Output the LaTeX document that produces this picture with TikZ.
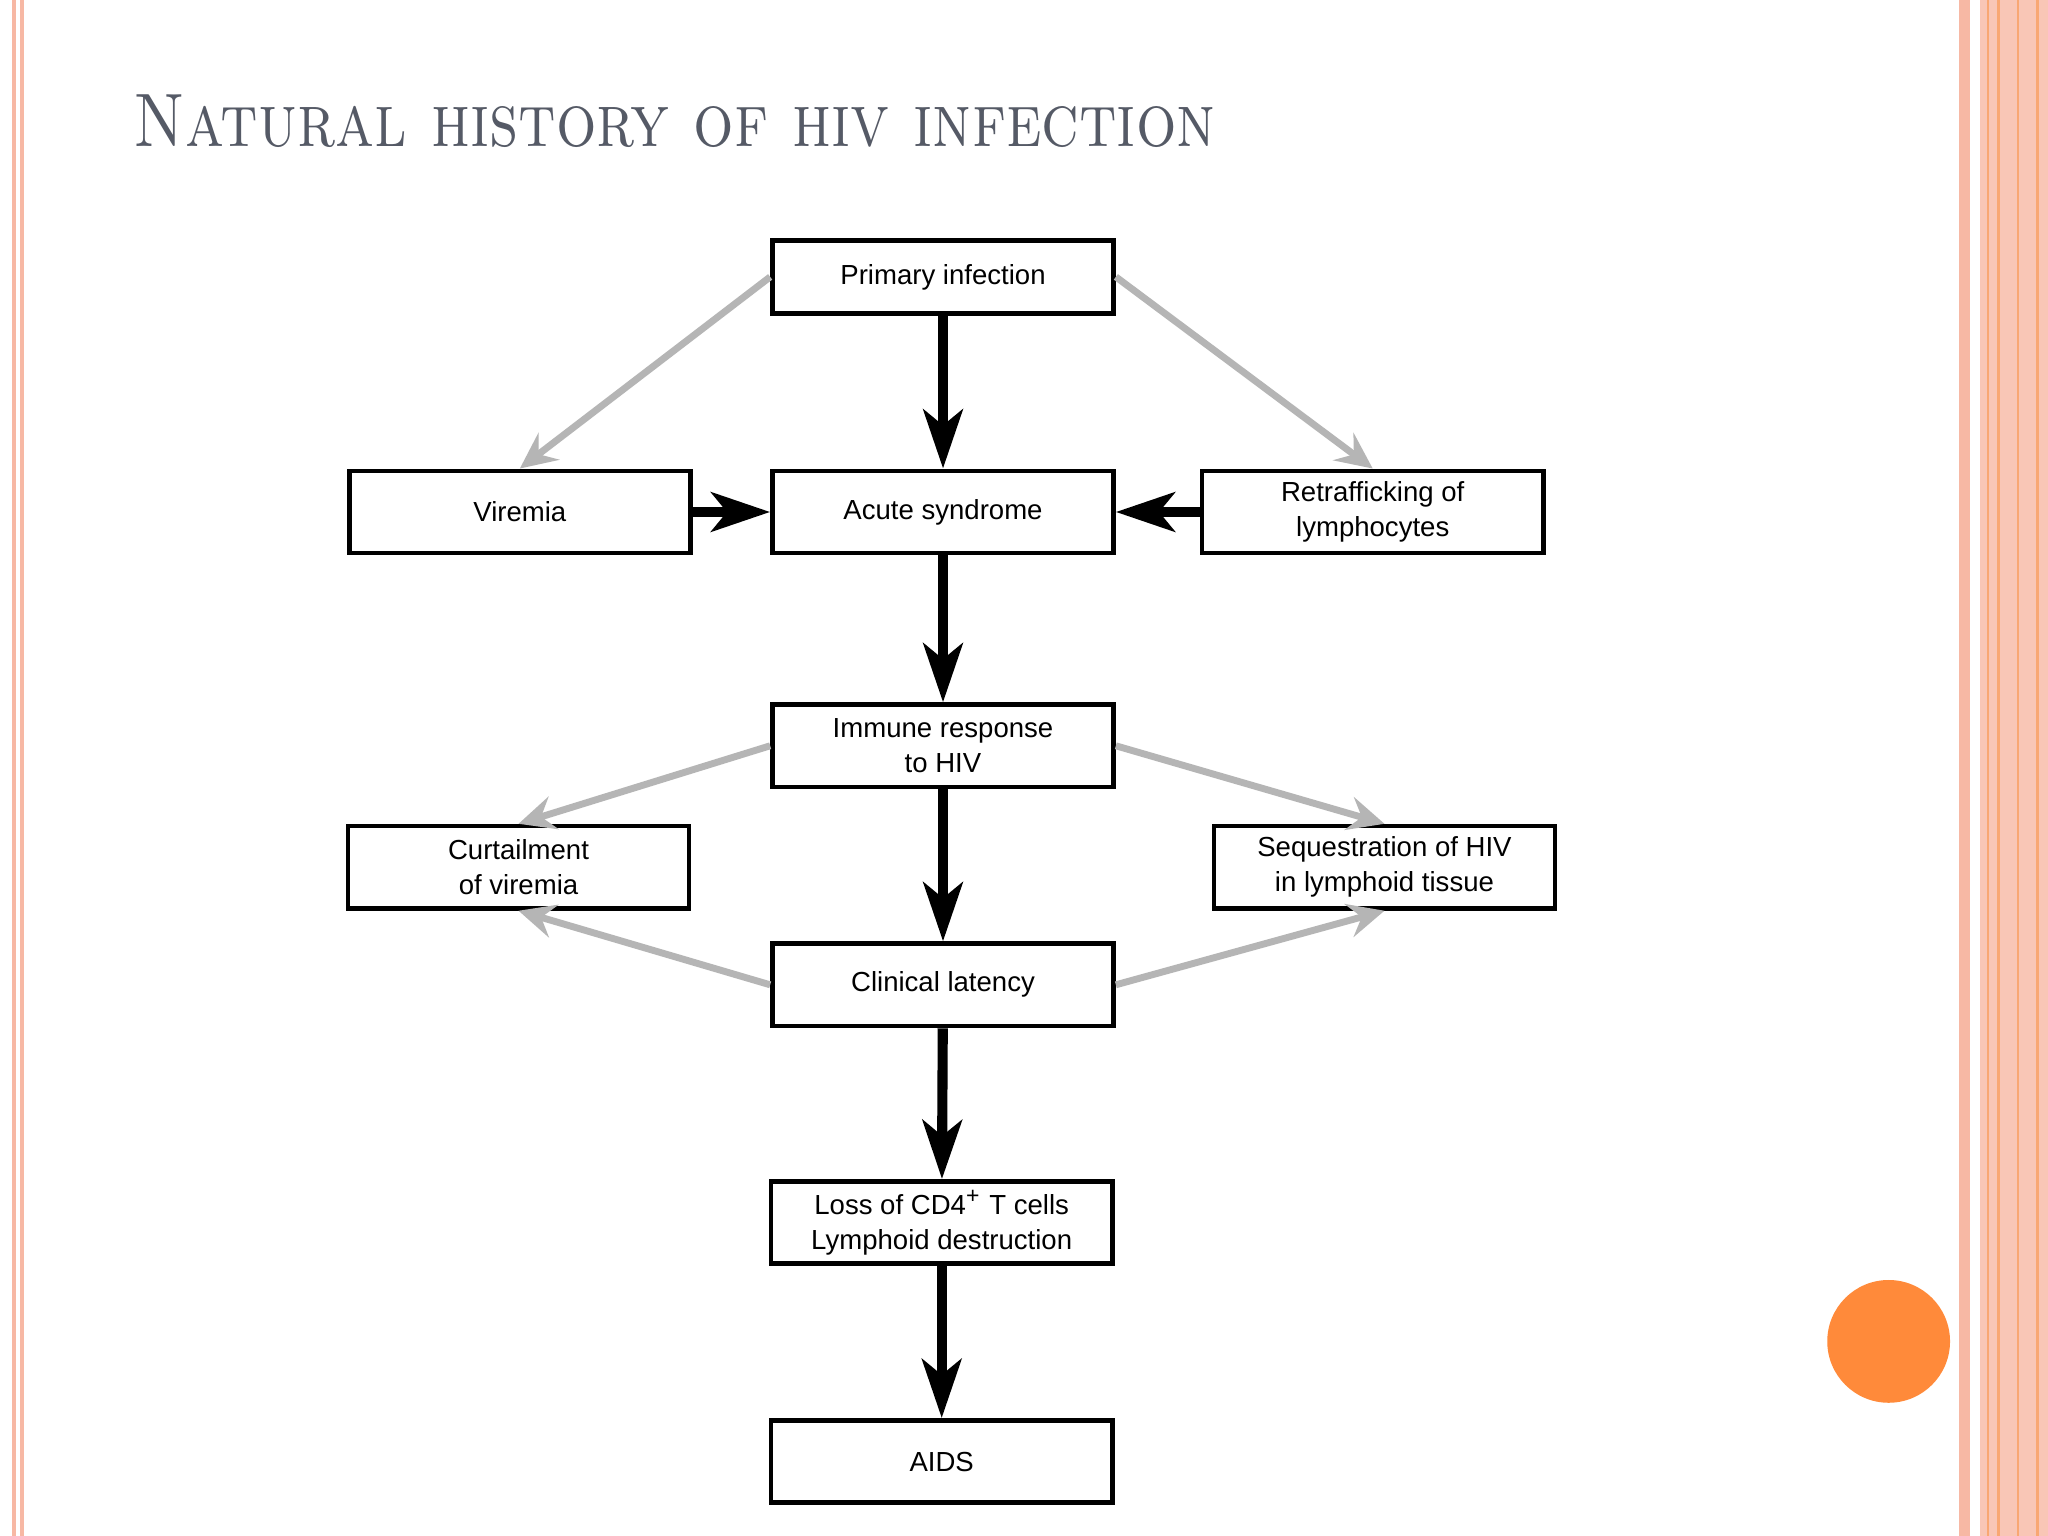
\documentclass[tikz,border=0pt]{standalone}
\usepackage{fontspec}
\setsansfont{Liberation Sans}
\usetikzlibrary{arrows.meta}
\definecolor{titlec}{HTML}{555A66}
\definecolor{pinkc}{HTML}{F7B8A4}
\definecolor{orangec}{HTML}{FF8A3A}
\definecolor{grayarr}{HTML}{B5B5B5}
\tikzset{
 box/.style={draw=black, line width=1pt, fill=white, minimum width=2.61cm, minimum height=0.63cm, inner sep=1pt, align=center, font=\sffamily\fontsize{6}{7.6}\selectfont},
 blk/.style={line width=2.2pt, -{Stealth[length=0.45cm,width=0.3cm,inset=0.12cm]}},
 gry/.style={draw=grayarr, line width=1.5pt, -{Stealth[length=0.28cm,width=0.26cm,inset=0.1cm]}}
}
\begin{document}
\begin{tikzpicture}[x=0.01cm,y=-0.01cm]
\useasboundingbox (0,0) rectangle (1568,1176);
\fill[white] (0,0) rectangle (1568,1176);
% borders
\fill[pinkc] (9,0) rectangle (18,1176);
\fill[white] (12,0) rectangle (15,1176);
\fill[pinkc] (1500,0) rectangle (1508,1176);
\fill[pinkc!80] (1516,0) rectangle (1568,1176);
\foreach \xx in {1522,1530,1545,1560}{\draw[pinkc!70!orange, line width=0.6pt] (\xx,0) -- (\xx,1176);}
% title
\node[anchor=west, text=titlec, xscale=0.84, font=\fontsize{16.5}{20}\selectfont\scshape] (title) at (92,93) {Natural history of hiv infection};
% nodes
\node[box, minimum height=0.56cm] (prim) at (722,212) {Primary infection};
\node[box] (vir) at (398,392) {Viremia};
\node[box] (acu) at (722,392) {Acute syndrome};
\node[box] (ret) at (1051,392) {Retrafficking of\\lymphocytes};
\node[box] (imm) at (722,571) {Immune response\\to HIV};
\node[box] (cur) at (397,664) {Curtailment\\of viremia};
\node[box] (seq) at (1060,664) {Sequestration of HIV\\in lymphoid tissue};
\node[box] (cli) at (722,754) {Clinical latency};
\node[box] (los) at (721,936) {Loss of CD4\textsuperscript{+} T cells\\Lymphoid destruction};
\node[box] (aids) at (721,1119) {AIDS};
% black arrows
\draw[blk] (prim) -- (acu);
\draw[blk] (acu) -- (imm);
\draw[blk] (imm) -- (cli);
\draw[blk] (cli) -- (los);
\draw[blk] (los) -- (aids);
\draw[blk] (vir) -- (acu);
\draw[blk] (ret) -- (acu);
% gray arrows
\draw[gry] (prim.west) -- (vir.north);
\draw[gry] (prim.east) -- (ret.north);
\draw[gry] (imm.west) -- (cur.north);
\draw[gry] (imm.east) -- (seq.north);
\draw[gry] (cli.west) -- (cur.south);
\draw[gry] (cli.east) -- (seq.south);
% orange dot
\fill[orangec] (1446,1027) circle (47);
\end{tikzpicture}
\end{document}
